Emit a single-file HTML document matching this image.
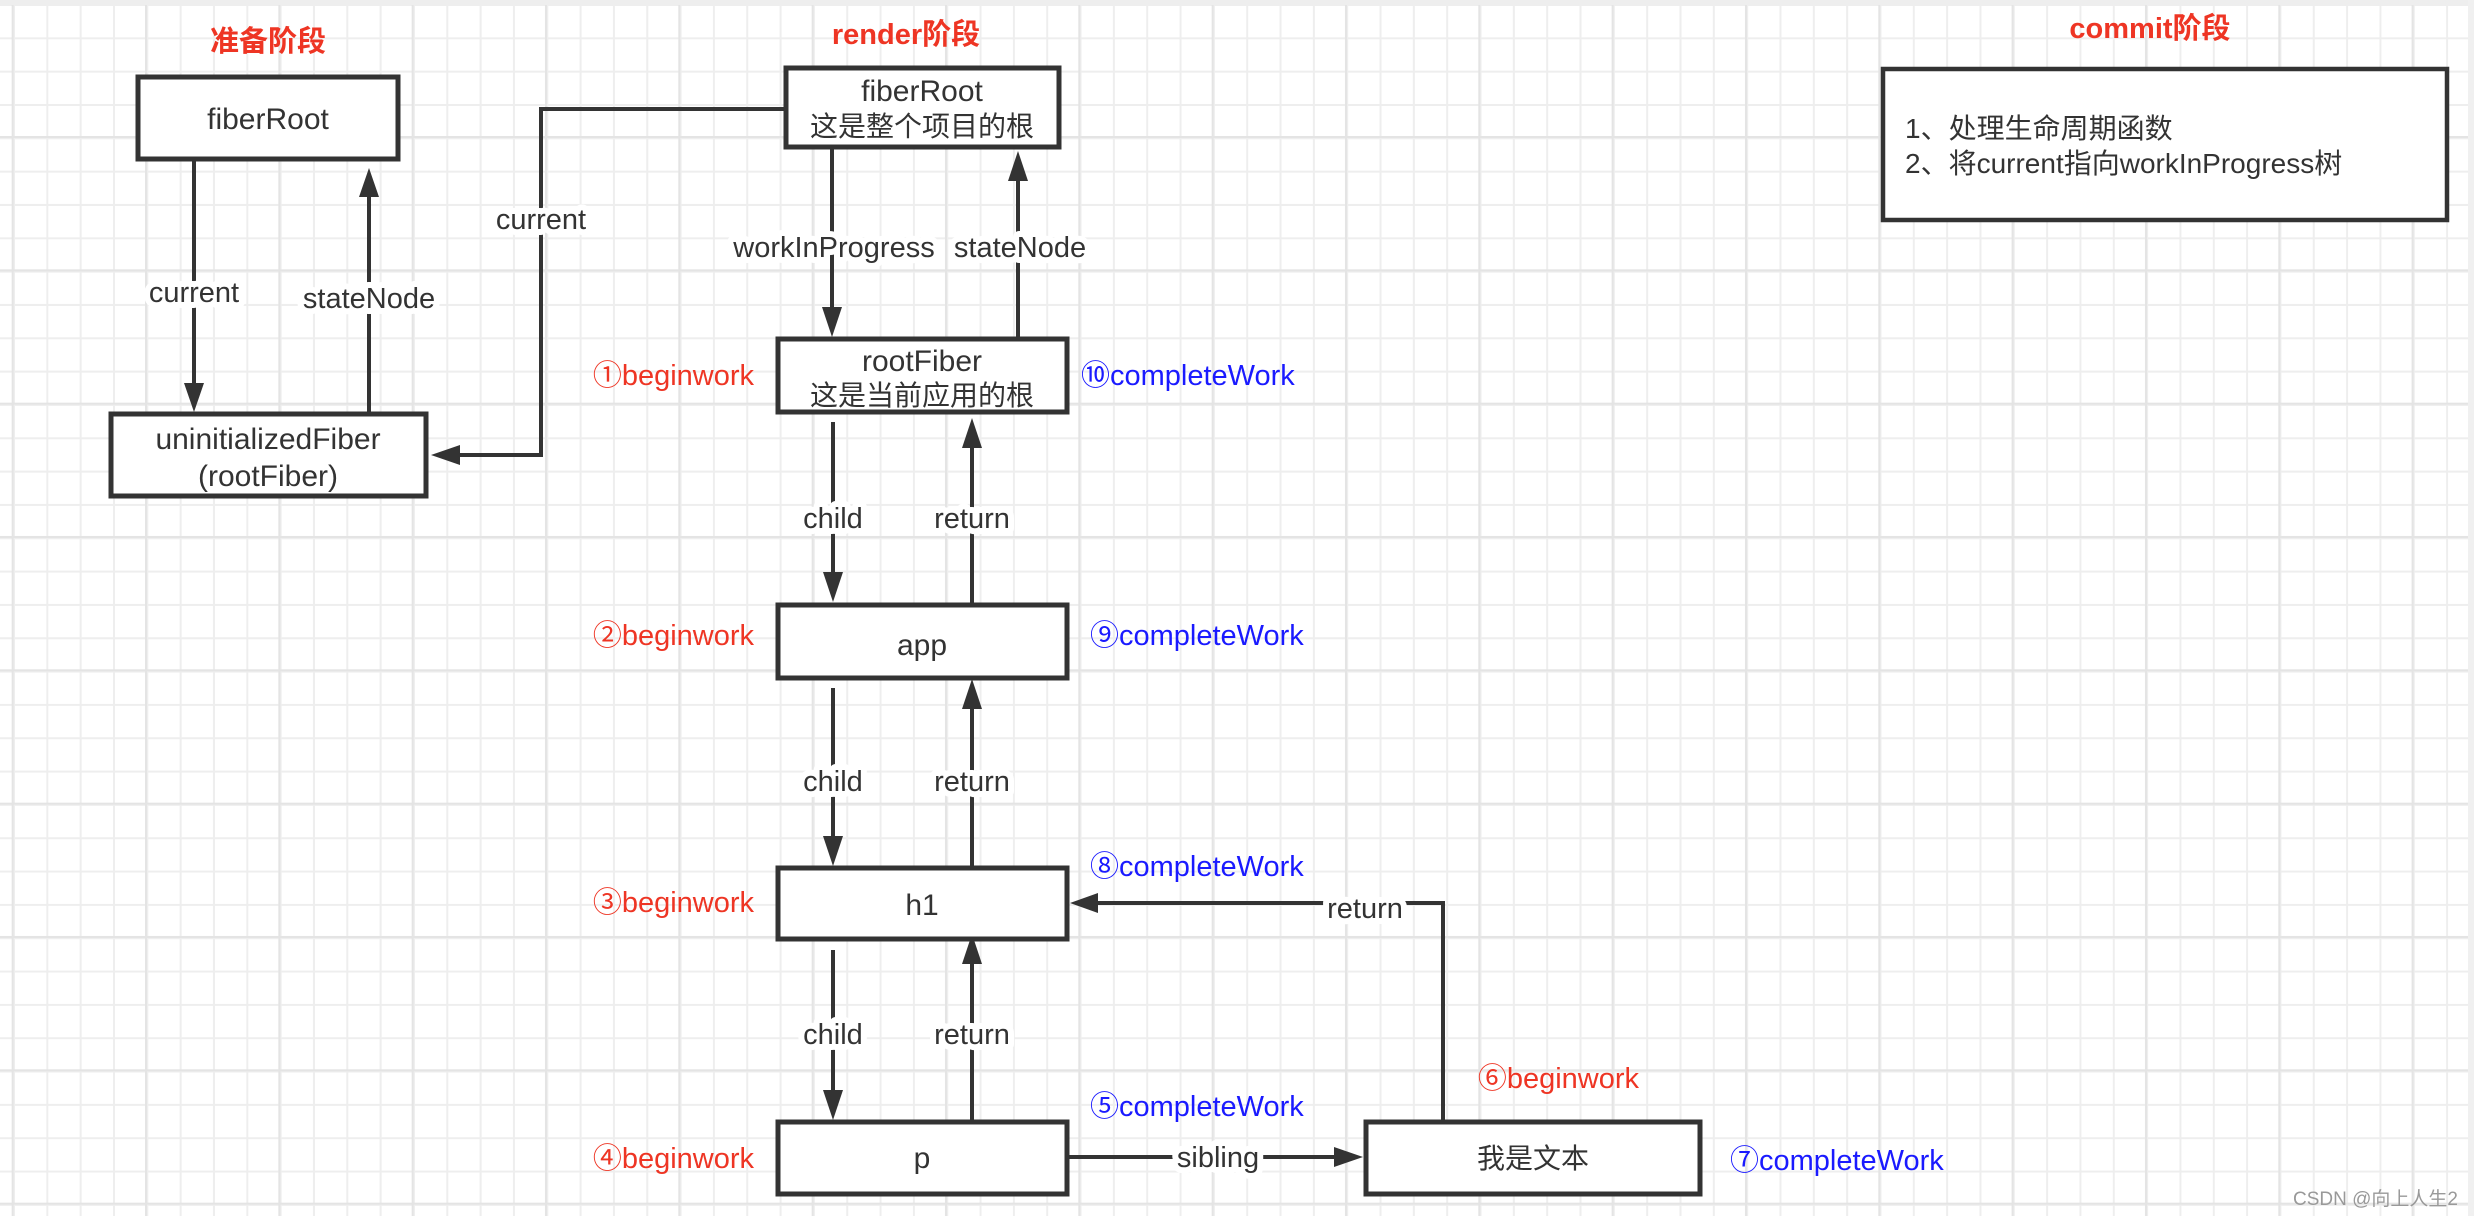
<!DOCTYPE html>
<html><head><meta charset="utf-8"><style>
html,body{margin:0;padding:0;background:#fff;}
svg{display:block;}
text{font-family:"Liberation Sans","Noto Sans CJK SC",sans-serif;}
</style></head><body>
<svg width="2474" height="1216" viewBox="0 0 2474 1216" xmlns="http://www.w3.org/2000/svg">
<defs>
<pattern id="g" x="13" y="4" width="33.33" height="33.33" patternUnits="userSpaceOnUse">
<rect x="0" y="0" width="2" height="33.33" fill="#eeeeee"/>
<rect x="0" y="0" width="33.33" height="2" fill="#eeeeee"/>
</pattern>
<pattern id="G" x="145" y="136" width="133.33" height="133.33" patternUnits="userSpaceOnUse">
<rect x="0" y="0" width="2" height="133.33" fill="#e4e4e4"/>
<rect x="0" y="0" width="133.33" height="2" fill="#e4e4e4"/>
</pattern>
</defs>
<rect width="2474" height="1216" fill="#fff"/>
<rect width="2468" height="1216" fill="url(#g)"/>
<rect width="2468" height="1216" fill="url(#G)"/>
<rect x="0" y="0" width="2474" height="5" fill="#eeeeee"/>
<rect x="2468" y="0" width="6" height="1216" fill="#f0f0f0"/>

<!-- titles -->
<g fill="#ee3524" font-weight="bold" font-size="29" text-anchor="middle">
<text x="268" y="51">准备阶段</text>
<text x="906" y="44">render阶段</text>
<text x="2150" y="38">commit阶段</text>
</g>

<!-- connector lines -->
<g stroke="#333" stroke-width="4" fill="none">
<line x1="194" y1="160" x2="194" y2="385"/>
<line x1="369" y1="412" x2="369" y2="195"/>
<polyline points="784,109 541,109 541,455 458,455"/>
<line x1="832" y1="148" x2="832" y2="308"/>
<line x1="1018" y1="337" x2="1018" y2="180"/>
<line x1="833" y1="422" x2="833" y2="574"/>
<line x1="972" y1="603" x2="972" y2="446"/>
<line x1="833" y1="688" x2="833" y2="838"/>
<line x1="972" y1="866" x2="972" y2="707"/>
<line x1="833" y1="950" x2="833" y2="1092"/>
<line x1="972" y1="1120" x2="972" y2="962"/>
<polyline points="1443,1120 1443,903 1098,903"/>
<line x1="1068" y1="1157" x2="1336" y2="1157"/>
</g>
<!-- arrowheads -->
<g fill="#333">
<polygon points="184,383 204,383 194,412"/>
<polygon points="359,197 379,197 369,168"/>
<polygon points="460,445 460,465 431,455"/>
<polygon points="822,307 842,307 832,337"/>
<polygon points="1008,181 1028,181 1018,151"/>
<polygon points="823,572 843,572 833,602"/>
<polygon points="962,448 982,448 972,418"/>
<polygon points="823,836 843,836 833,866"/>
<polygon points="962,709 982,709 972,679"/>
<polygon points="823,1090 843,1090 833,1120"/>
<polygon points="962,964 982,964 972,934"/>
<polygon points="1098,893 1098,913 1070,903"/>
<polygon points="1334,1147 1334,1167 1363,1157"/>
</g>

<!-- boxes -->
<g fill="#fff" stroke="#333" stroke-width="5">
<rect x="138" y="77" width="260" height="82"/>
<rect x="111" y="414" width="315" height="82"/>
<rect x="786" y="68" width="273" height="79"/>
<rect x="778" y="339" width="289" height="73"/>
<rect x="778" y="605" width="289" height="73"/>
<rect x="778" y="868" width="289" height="71"/>
<rect x="778" y="1122" width="289" height="72"/>
<rect x="1366" y="1122" width="334" height="72"/>
<rect x="1883" y="69" width="564" height="151" stroke-width="4.5"/>
</g>

<!-- node text -->
<g fill="#333" font-size="30" text-anchor="middle">
<text x="268" y="129">fiberRoot</text>
<text x="268" y="449">uninitializedFiber</text>
<text x="268" y="486">(rootFiber)</text>
<text x="922" y="101">fiberRoot</text>
<text x="922" y="136" font-size="28">这是整个项目的根</text>
<text x="922" y="371">rootFiber</text>
<text x="922" y="405" font-size="28">这是当前应用的根</text>
<text x="922" y="655">app</text>
<text x="922" y="915">h1</text>
<text x="922" y="1168">p</text>
<text x="1533" y="1168" font-size="28">我是文本</text>
</g>
<g fill="#333" font-size="28">
<text x="1905" y="138">1、处理生命周期函数</text>
<text x="1905" y="173">2、将current指向workInProgress树</text>
</g>

<!-- edge labels with white halo -->
<g fill="#333" font-size="29" text-anchor="middle" stroke="#fff" stroke-width="12" paint-order="stroke" stroke-linejoin="round">
<text x="194" y="302">current</text>
<text x="369" y="308">stateNode</text>
<text x="541" y="229">current</text>
<text x="834" y="257">workInProgress</text>
<text x="1020" y="257">stateNode</text>
<text x="833" y="528">child</text>
<text x="972" y="528">return</text>
<text x="833" y="791">child</text>
<text x="972" y="791">return</text>
<text x="833" y="1044">child</text>
<text x="972" y="1044">return</text>
<text x="1365" y="918">return</text>
<text x="1218" y="1167">sibling</text>
</g>

<!-- step labels -->
<g fill="#ee3524" font-size="29" text-anchor="end">
<text x="754" y="385">①beginwork</text>
<text x="754" y="645">②beginwork</text>
<text x="754" y="912">③beginwork</text>
<text x="754" y="1168">④beginwork</text>
<text x="1639" y="1088">⑥beginwork</text>
</g>
<g fill="#1a1aff" font-size="29">
<text x="1081" y="385">⑩completeWork</text>
<text x="1090" y="645">⑨completeWork</text>
<text x="1090" y="876">⑧completeWork</text>
<text x="1090" y="1116">⑤completeWork</text>
<text x="1730" y="1170">⑦completeWork</text>
</g>
<text x="2458" y="1205" text-anchor="end" font-size="19" fill="#999">CSDN @向上人生2</text>
</svg>
</body></html>
